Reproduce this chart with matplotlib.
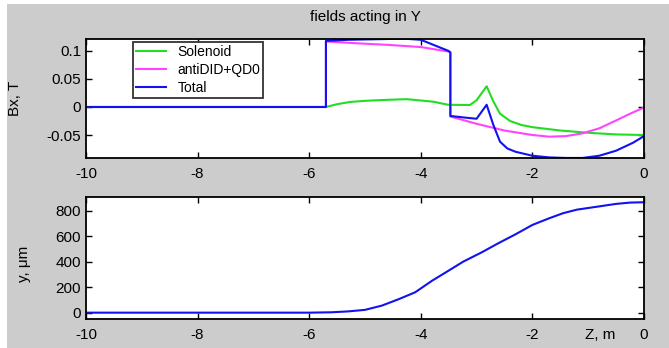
import matplotlib
matplotlib.use("Agg")
import matplotlib.pyplot as plt
from matplotlib.patches import Rectangle

plt.rcParams['font.family'] = ['Liberation Sans', 'DejaVu Sans']

# ---- data ----
z_solenoid = [-10, -5.70, -5.5, -5.27, -5.0, -4.68, -4.25, -3.78, -3.51, -3.12, -3.0, -2.82,
              -2.7, -2.58, -2.4, -2.2, -2.0, -1.5, -1.0, -0.5, 0]
bx_solenoid = [0, 0, 0.005, 0.009, 0.011, 0.0125, 0.014, 0.0095, 0.004, 0.0035, 0.012, 0.037,
               0.010, -0.012, -0.025, -0.032, -0.036, -0.042, -0.046, -0.049, -0.050]

z_anti = [-10, -5.70, -5.70, -5.2, -4.6, -4.0, -3.5, -3.47, -3.47, -3.0, -2.5, -2.0, -1.7,
          -1.4, -1.1, -0.8, -0.5, -0.25, 0]
bx_anti = [0, 0, 0.117, 0.114, 0.111, 0.107, 0.099, 0.098, -0.017, -0.030, -0.042, -0.050,
           -0.053, -0.052, -0.047, -0.038, -0.024, -0.012, -0.001]

z_total = [-10, -5.70, -5.70, -5.3, -4.8, -4.3, -4.0, -3.8, -3.5, -3.47, -3.47, -3.2, -3.0,
           -2.82, -2.7, -2.58, -2.45, -2.3, -2.0, -1.7, -1.4, -1.1, -0.8, -0.5, -0.2, 0]
bx_total = [0, 0, 0.118, 0.120, 0.121, 0.122, 0.120, 0.112, 0.100, 0.097, -0.016, -0.019,
            -0.021, 0.004, -0.032, -0.062, -0.074, -0.080, -0.087, -0.090, -0.091, -0.091,
            -0.087, -0.078, -0.064, -0.052]

z_traj = [-10, -6.0, -5.6, -5.3, -5.0, -4.7, -4.4, -4.1, -4.0, -3.8, -3.5, -3.24, -2.9,
          -2.63, -2.3, -2.0, -1.7, -1.45, -1.2, -0.84, -0.5, -0.25, 0]
y_traj = [0, 0, 3, 10, 22, 55, 105, 160, 190, 250, 330, 400, 475, 540, 615, 688, 740, 780,
          808, 831, 853, 863, 866]

x_ticks = [-10, -8, -6, -4, -2, 0]
top_yticks = [-0.05, 0, 0.05, 0.1]
top_yticklabels = ['-0.05', '0', '0.05', '0.1']
bot_yticks = [0, 200, 400, 600, 800]
labels = ['Solenoid', 'antiDID+QD0', 'Total']
colors = ['#22dd22', '#ff44ff', '#1212f0']

W, H = 669, 348
fig = plt.figure(figsize=(W / 100, H / 100), dpi=100, facecolor='white')
fig.patches.append(Rectangle((7 / W, 0), 1 - 7 / W, 1 - 4 / H, transform=fig.transFigure,
                             facecolor='#cccccc', edgecolor='none', zorder=-10))

def fx(px):
    return px / W

def fy(py):
    return 1 - py / H

ax1 = fig.add_axes([fx(86), fy(158.3), fx(644) - fx(86), fy(39) - fy(158.3)])
ax2 = fig.add_axes([fx(86), fy(319.3), fx(644) - fx(86), fy(197) - fy(319.3)])

for ax in (ax1, ax2):
    ax.set_facecolor('white')
    for s in ax.spines.values():
        s.set_linewidth(1.3)
        s.set_color('black')
    ax.tick_params(direction='in', top=True, right=True, length=4, width=1.0,
                   labelsize=11, colors='black')
    ax.tick_params(axis='x', pad=6)
    ax.set_xlim(-10, 0)
    ax.set_xticks(x_ticks)
    ax.set_xticklabels([str(t) for t in x_ticks])

l1, = ax1.plot(z_solenoid, bx_solenoid, color=colors[0], lw=1.5)
l2, = ax1.plot(z_anti, bx_anti, color=colors[1], lw=1.5)
l3, = ax1.plot(z_total, bx_total, color=colors[2], lw=1.5)
ax1.set_ylim(-0.0916, 0.1214)
ax1.set_yticks(top_yticks)
ax1.set_yticklabels(top_yticklabels)
ax1.set_ylabel('Bx, T', fontsize=11)
ax1.yaxis.set_label_coords((22 - 86) / 558, 0.5)
ax1.set_title('fields acting in Y', fontsize=11, pad=13)

leg = ax1.legend([l1, l2, l3], labels, loc='upper left',
                 bbox_to_anchor=((133 - 86) / 558, (158.3 - 42) / 119.3),
                 fontsize=10, frameon=True, fancybox=False, framealpha=1,
                 edgecolor='#333333', borderaxespad=0, borderpad=0.2,
                 handlelength=2.2, handletextpad=0.8, labelspacing=0.3)
leg.get_frame().set_linewidth(1.3)

ax2.plot(z_traj, y_traj, color=colors[2], lw=1.5)
ax2.set_ylim(-52, 907)
ax2.set_yticks(bot_yticks)
ax2.set_yticklabels([str(t) for t in bot_yticks])
ax2.set_ylabel('y, \u03bcm', fontsize=11)
ax2.yaxis.set_label_coords((31 - 86) / 558, 0.45)
ax2.annotate('Z, m', xy=(-0.79, (319.3 - 335) / 122.3), xycoords=('data', 'axes fraction'),
             ha='center', va='center', fontsize=11, annotation_clip=False)

fig.savefig('out.png', dpi=100, facecolor=fig.get_facecolor())
